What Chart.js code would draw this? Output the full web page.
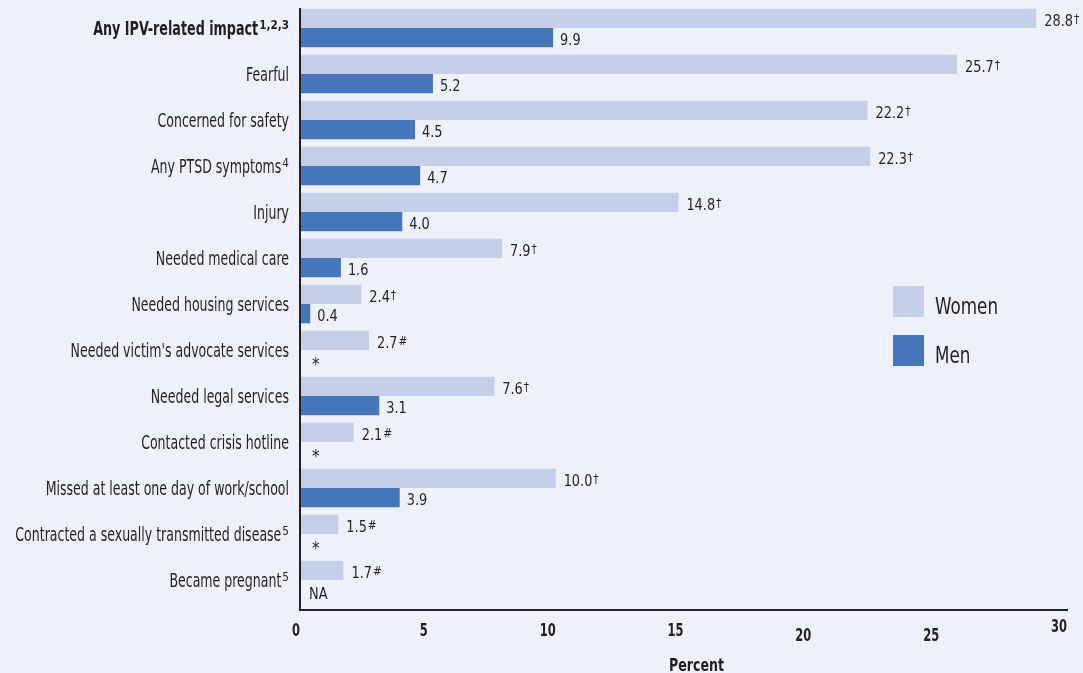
<!DOCTYPE html>
<html>
<head>
<meta charset="utf-8">
<script src="https://cdn.jsdelivr.net/npm/chart.js@4.4.1/dist/chart.umd.min.js"></script>
<style>
  html, body { margin: 0; padding: 0; background: #eef1f9; }
  canvas { display: block; }
</style>
</head>
<body>
<canvas id="chart" width="1083" height="673"></canvas>
<script>
const categories = [
  "Any IPV-related impact", "Fearful", "Concerned for safety", "Any PTSD symptoms",
  "Injury", "Needed medical care", "Needed housing services",
  "Needed victim's advocate services", "Needed legal services",
  "Contacted crisis hotline", "Missed at least one day of work/school",
  "Contracted a sexually transmitted disease", "Became pregnant"
];
const categorySups = ["1,2,3", "", "", "4", "", "", "", "", "", "", "", "5", "5"];
const womenValues = [28.8, 25.7, 22.2, 22.3, 14.8, 7.9, 2.4, 2.7, 7.6, 2.1, 10.0, 1.5, 1.7];
const womenMarks = ["†", "†", "†", "†", "†", "†", "†", "#", "†", "#", "†", "#", "#"];
const menValues = [9.9, 5.2, 4.5, 4.7, 4.0, 1.6, 0.4, null, 3.1, null, 3.9, null, null];
const menMissing = ["", "", "", "", "", "", "", "*", "", "*", "", "*", "NA"];
const xTicks = [0, 5, 10, 15, 20, 25, 30];
const seriesNames = ["Women", "Men"];

const FONT = "'DejaVu Sans Condensed', 'DejaVu Sans', sans-serif";
const TEXT = "#231f20";
const WOMEN_COLOR = "#c5cfe8";
const MEN_COLOR = "#4876bb";

// squeeze the fallback font horizontally so it looks like the condensed original
function fitScale(ctx, font, sample, target) {
  ctx.font = font;
  return target / ctx.measureText(sample).width;
}
function drawText(ctx, s, x, y, font, align, sx) {
  ctx.save();
  ctx.font = font;
  ctx.textAlign = align;
  ctx.textBaseline = "alphabetic";
  ctx.translate(x, y);
  ctx.scale(sx, 1);
  ctx.fillText(s, 0, 0);
  const w = ctx.measureText(s).width * sx;
  ctx.restore();
  return w;
}

const decorations = {
  id: "decorations",
  afterDraw(chart) {
    const ctx = chart.ctx;
    const area = chart.chartArea;
    const xScale = chart.scales.x;
    const yScale = chart.scales.y;
    const womenMeta = chart.getDatasetMeta(0);
    const menMeta = chart.getDatasetMeta(1);

    const fCat = "19px " + FONT, fCatB = "bold 19px " + FONT;
    const fSup = "13px " + FONT, fSupB = "bold 13px " + FONT;
    const fVal = "16px " + FONT, fMark = "13px " + FONT;
    const fTick = "bold 18px " + FONT, fLeg = "23px " + FONT;
    const sCat = fitScale(ctx, fCat, "Contracted a sexually transmitted disease", 266);
    const sCatB = fitScale(ctx, fCatB, "Any IPV-related impact", 165);
    const sVal = fitScale(ctx, fVal, "28.8", 28.7);
    const sTick = fitScale(ctx, fTick, "15", 16);
    const sLeg = fitScale(ctx, fLeg, "Women", 63);
    const sTitle = fitScale(ctx, fTick, "Percent", 55);

    ctx.save();
    ctx.fillStyle = TEXT;

    // category labels, right aligned against the axis
    const right = area.left - 11;
    categories.forEach((label, i) => {
      const y = yScale.getPixelForValue(i) + 6.7;
      const bold = i === 0;
      let supW = 0;
      if (categorySups[i]) {
        const f = bold ? fSupB : fSup;
        ctx.font = f;
        supW = ctx.measureText(categorySups[i]).width * sVal + 1;
        drawText(ctx, categorySups[i], right - supW + 1, y - 6, f, "left", sVal);
      }
      drawText(ctx, label, right - supW, y, bold ? fCatB : fCat, "right", bold ? sCatB : sCat);
    });

    // value labels
    womenMeta.data.forEach((bar, i) => {
      const y = bar.y + 7.6;
      const w = drawText(ctx, womenValues[i].toFixed(1), bar.x + 8, y, fVal, "left", sVal);
      drawText(ctx, womenMarks[i], bar.x + 9 + w, y - 3, fMark, "left", 0.9);
    });
    womenMeta.data.forEach((wbar, i) => {
      const cy = wbar.y + wbar.height;
      if (menValues[i] === null) {
        const s = menMissing[i];
        if (s === "*") drawText(ctx, s, area.left + 12, cy + 10, "17px " + FONT, "left", 1);
        else drawText(ctx, s, area.left + 9, cy + 9, fVal, "left", sVal);
      } else {
        const bar = menMeta.data[i];
        drawText(ctx, menValues[i].toFixed(1), bar.x + 7, bar.y + 7.6, fVal, "left", sVal);
      }
    });

    // axis lines
    ctx.strokeStyle = TEXT;
    ctx.lineWidth = 2;
    ctx.beginPath();
    ctx.moveTo(area.left, 8);
    ctx.lineTo(area.left, area.bottom + 7);
    ctx.lineTo(area.right + 1, area.bottom + 7);
    ctx.stroke();

    // x tick labels (slightly staggered, like the original) and axis title
    const tickDrop = [0, 0, 0, 0, 5, 5, -4];
    xTicks.forEach((v, k) => {
      drawText(ctx, String(v), xScale.getPixelForValue(v), area.bottom + 33 + tickDrop[k], fTick, "right", sTick);
    });
    drawText(ctx, "Percent", (area.left + area.right) / 2 + 13, 671, fTick, "center", sTitle);

    // legend
    [WOMEN_COLOR, MEN_COLOR].forEach((color, k) => {
      const top = 286 + k * 49;
      ctx.fillStyle = color;
      ctx.fillRect(893, top, 31, 31);
      ctx.fillStyle = TEXT;
      drawText(ctx, seriesNames[k], 935, top + 27.5, fLeg, "left", sLeg);
    });
    ctx.restore();
  }
};

new Chart(document.getElementById("chart"), {
  type: "bar",
  data: {
    labels: categories,
    datasets: [
      { label: seriesNames[0], data: womenValues, backgroundColor: WOMEN_COLOR },
      { label: seriesNames[1], data: menValues, backgroundColor: MEN_COLOR }
    ]
  },
  options: {
    indexAxis: "y",
    responsive: false,
    animation: false,
    devicePixelRatio: 1,
    categoryPercentage: 0.84,
    barPercentage: 1.0,
    layout: { padding: { left: 300, right: 16, top: 5, bottom: 70 } },
    plugins: { legend: { display: false }, tooltip: { enabled: false } },
    scales: {
      x: {
        min: 0, max: 30,
        afterBuildTicks: axis => { axis.ticks = xTicks.map(v => ({ value: v })); },
        ticks: { display: false },
        grid: { display: false, drawTicks: false },
        border: { display: false }
      },
      y: {
        ticks: { display: false },
        grid: { display: false, drawTicks: false },
        border: { display: false }
      }
    }
  },
  plugins: [decorations]
});
</script>
</body>
</html>
